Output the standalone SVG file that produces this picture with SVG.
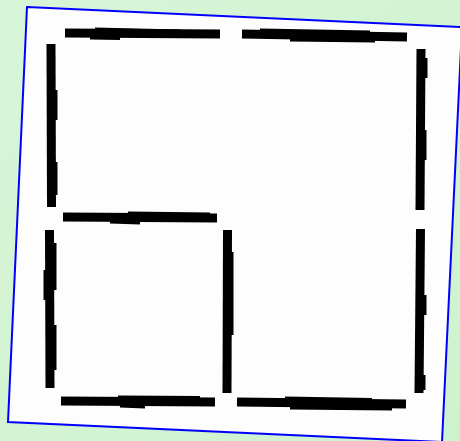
<svg xmlns="http://www.w3.org/2000/svg" width="460" height="441" viewBox="0 0 460 441">
<defs>
<linearGradient id="bg" x1="0" y1="0" x2="1" y2="1">
<stop offset="0" stop-color="#d8f5d8"/>
<stop offset="1" stop-color="#cdf3cd"/>
</linearGradient>
<style>
.wall{stroke:#000;stroke-width:9;stroke-linecap:butt;fill:none}
.thk{stroke:#000;stroke-width:3;fill:none}
</style>
</defs>
<rect width="460" height="441" fill="url(#bg)"/>
<polygon points="27,7 462,27 442,442 8,422" fill="#fdfdfd" stroke="#0000ff" stroke-width="2"/>
<g id="walls">
<line class="wall" x1="65" y1="33" x2="220" y2="34"/>
<line class="thk" x1="95" y1="29" x2="180" y2="31"/>
<line class="thk" x1="90" y1="38" x2="120" y2="38.5"/>
<line class="wall" x1="242" y1="34" x2="407" y2="37"/>
<line class="thk" x1="260" y1="30" x2="370" y2="32"/>
<line class="thk" x1="290" y1="40" x2="375" y2="41"/>
<line class="wall" x1="51" y1="44" x2="51.5" y2="207"/>
<line class="thk" x1="56" y1="90" x2="56" y2="120"/>
<line class="thk" x1="56" y1="162" x2="56" y2="195"/>
<line class="wall" x1="63" y1="217" x2="217" y2="218"/>
<line class="thk" x1="128" y1="213" x2="210" y2="214"/>
<line class="thk" x1="110" y1="222" x2="140" y2="223"/>
<line class="wall" x1="49.5" y1="230" x2="50" y2="388"/>
<line class="thk" x1="55" y1="243" x2="55" y2="290"/>
<line class="thk" x1="45" y1="270" x2="45" y2="300"/>
<line class="thk" x1="55" y1="325" x2="55" y2="370"/>
<line class="wall" x1="61" y1="401" x2="215" y2="402"/>
<line class="thk" x1="118" y1="397" x2="200" y2="397.5"/>
<line class="thk" x1="120" y1="406" x2="145" y2="407"/>
<line class="wall" x1="227.5" y1="230" x2="227" y2="393"/>
<line class="thk" x1="232" y1="252" x2="232" y2="335"/>
<line class="wall" x1="237" y1="402" x2="406" y2="404"/>
<line class="thk" x1="285" y1="398" x2="372" y2="399.5"/>
<line class="thk" x1="290" y1="408" x2="392" y2="409"/>
<line class="wall" x1="421" y1="49" x2="420" y2="210"/>
<line class="thk" x1="426" y1="58" x2="426" y2="78"/>
<line class="thk" x1="425" y1="130" x2="425" y2="160"/>
<line class="wall" x1="420.5" y1="229" x2="419" y2="393"/>
<line class="thk" x1="425" y1="295" x2="425" y2="315"/>
<line class="thk" x1="424" y1="375" x2="424" y2="390"/>
</g>
</svg>
